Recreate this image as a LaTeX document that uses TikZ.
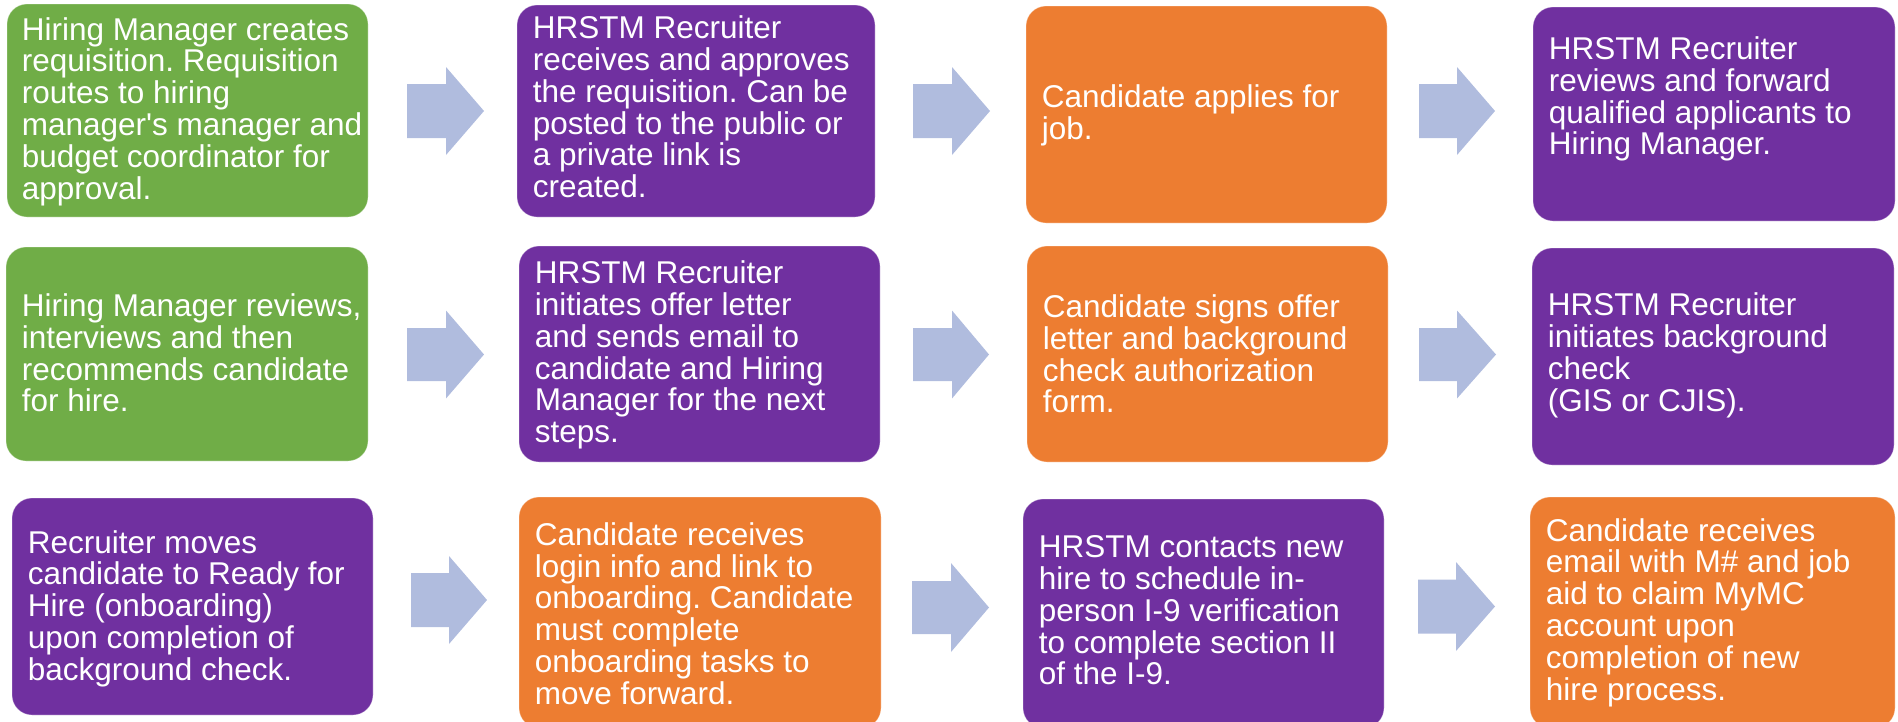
\documentclass[tikz,border=0pt]{standalone}
\usepackage{fontspec}
\setmainfont{Liberation Sans}
\frenchspacing
\definecolor{hmgreen}{RGB}{112,173,71}
\definecolor{hmpurple}{RGB}{112,48,160}
\definecolor{hmorange}{RGB}{237,125,49}
\definecolor{hmarrow}{RGB}{176,188,222}
\newcommand\blockarrow[6]{%
  \fill[hmarrow] (#1,#4-#5) -- (#2,#4-#5) -- (#2,#4-#6) -- (#3,#4) -- (#2,#4+#6) -- (#2,#4+#5) -- (#1,#4+#5) -- cycle;}
\tikzset{
  stepbox/.style={rounded corners=20pt, inner sep=0pt, draw=white, draw opacity=0.35, line width=0.8pt},
  greenbox/.style={stepbox, fill=hmgreen},
  purplebox/.style={stepbox, fill=hmpurple},
  orangebox/.style={stepbox, fill=hmorange},
  steptext/.style={anchor=west, inner sep=0pt, align=left, text=white,
    font=\fontsize{31.5}{31.8}\selectfont},
}
\begin{document}
\begin{tikzpicture}[x=1pt,y=-1pt]
\useasboundingbox (0,0) rectangle (1898,721);
\begin{scope}
\clip (0,0) rectangle (1898,721);
% Row 1
\node[greenbox, minimum width=361pt, minimum height=213pt] (b1) at (187.5,110.5) {};
\node[purplebox, minimum width=358pt, minimum height=212pt] (b2) at (696,111) {};
\node[orangebox, minimum width=361pt, minimum height=217pt] (b3) at (1206.5,114.5) {};
\node[purplebox, minimum width=362pt, minimum height=214pt] (b4) at (1714,114) {};
% Row 2
\node[greenbox, minimum width=362pt, minimum height=214pt] (b5) at (187,354) {};
\node[purplebox, minimum width=361pt, minimum height=216pt] (b6) at (699.5,354) {};
\node[orangebox, minimum width=361pt, minimum height=216pt] (b7) at (1207.5,354) {};
\node[purplebox, minimum width=362pt, minimum height=217pt] (b8) at (1713,356.5) {};
% Row 3
\node[purplebox, minimum width=361pt, minimum height=217pt] (b9) at (192.5,606.5) {};
\node[orangebox, minimum width=362pt, minimum height=231pt] (b10) at (700,612.5) {};
\node[purplebox, minimum width=361pt, minimum height=229pt] (b11) at (1203.5,613.5) {};
\node[orangebox, minimum width=365pt, minimum height=231pt] (b12) at (1712.5,612.5) {};
\end{scope}
% Texts
\node[steptext] (t1) at ([xshift=15pt,yshift=-1pt]b1.west)
  {Hiring Manager creates\\requisition. Requisition\\routes to hiring\\manager\textquotesingle s manager and\\budget coordinator for\\approval.};
\node[steptext] (t2) at ([xshift=16pt,yshift=4pt]b2.west)
  {HRSTM Recruiter\\receives and approves\\the requisition. Can be\\posted to the public or\\a private link is\\created.};
\node[steptext] (t3) at ([xshift=16pt,yshift=-1pt]b3.west)
  {Candidate applies for\\job.};
\node[steptext] (t4) at ([xshift=16pt,yshift=15pt]b4.west)
  {HRSTM Recruiter\\reviews and forward\\qualified applicants to\\Hiring Manager.};
\node[steptext] (t5) at ([xshift=16pt,yshift=1pt]b5.west)
  {Hiring Manager reviews,\\interviews and then\\recommends candidate\\for hire.};
\node[steptext] (t6) at ([xshift=16pt,yshift=-1pt]b6.west)
  {HRSTM Recruiter\\initiates offer letter\\and sends email to\\candidate and Hiring\\Manager for the next\\steps.};
\node[steptext] (t7) at ([xshift=16pt,yshift=0pt]b7.west)
  {Candidate signs offer\\letter and background\\check authorization\\form.};
\node[steptext] (t8) at ([xshift=16pt,yshift=1pt]b8.west)
  {HRSTM Recruiter\\initiates background\\check\\(GIS or CJIS).};
\node[steptext] (t9) at ([xshift=16pt,yshift=-2pt]b9.west)
  {Recruiter moves\\candidate to Ready for\\Hire (onboarding)\\upon completion of\\background check.};
\node[steptext] (t10) at ([xshift=16pt,yshift=-1pt]b10.west)
  {Candidate receives\\login info and link to\\onboarding. Candidate\\must complete\\onboarding tasks to\\move forward.};
\node[steptext] (t11) at ([xshift=16pt,yshift=3pt]b11.west)
  {HRSTM contacts new\\hire to schedule in-\\person I-9 verification\\to complete section II\\of the I-9.};
\node[steptext] (t12) at ([xshift=16pt,yshift=0pt]b12.west)
  {Candidate receives\\email with M\# and job\\aid to claim MyMC\\account upon\\completion of new\\hire process.};
% Block arrows
\blockarrow{407}{446}{484}{111}{27}{44}
\blockarrow{913}{952}{990}{111}{27}{44}
\blockarrow{1419}{1457}{1495}{111}{27}{44}
\blockarrow{407}{446}{484}{354.5}{26.5}{44}
\blockarrow{913}{952}{989}{354.5}{26.5}{44}
\blockarrow{1419}{1457}{1496}{354.5}{26.5}{44}
\blockarrow{411}{449}{487}{600}{27}{44}
\blockarrow{912}{951}{989}{607.5}{26.5}{44.5}
\blockarrow{1418}{1456}{1495}{606.5}{27}{44.5}
\end{tikzpicture}
\end{document}
